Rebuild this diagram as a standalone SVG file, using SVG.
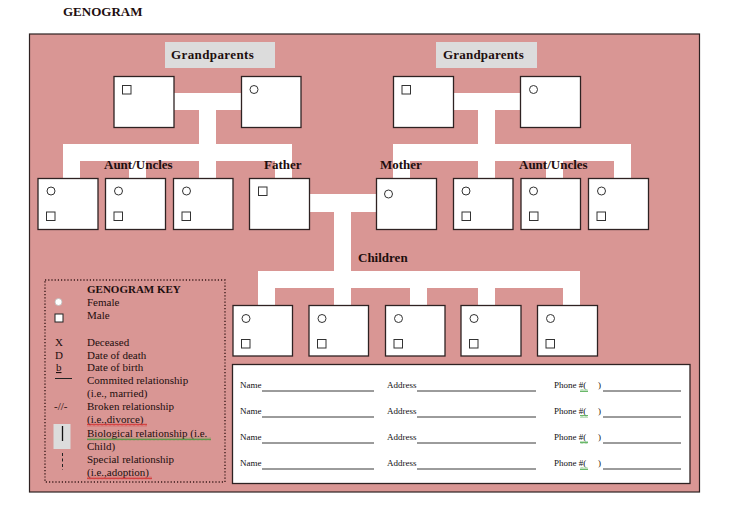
<svg xmlns="http://www.w3.org/2000/svg" width="736" height="508" viewBox="0 0 736 508">
<defs>
<style>
.lbl{font-family:"Liberation Serif","Times New Roman",serif;font-weight:bold;font-size:13px;fill:#1e0e0e}
.key{font-family:"Liberation Serif","Times New Roman",serif;font-size:11px;fill:#1e0e0e}
.frm{font-family:"Liberation Serif","Times New Roman",serif;font-size:9px;fill:#111}
.box{fill:#fff;stroke:#2e2222;stroke-width:1.3}
.ic{fill:#fff;stroke:#333;stroke-width:1}
.bar{fill:#fff}
.ul{stroke:#222;stroke-width:0.9}
</style>
<pattern id="wavR" width="4" height="3" patternUnits="userSpaceOnUse"><path d="M0 2.5 L1 0.5 L2 2.5 L3 0.5 L4 2.5" fill="none" stroke="#d02020" stroke-width="0.7"/></pattern>
<pattern id="wavG" width="4" height="3" patternUnits="userSpaceOnUse"><path d="M0 2.5 L1 0.5 L2 2.5 L3 0.5 L4 2.5" fill="none" stroke="#2a9a2a" stroke-width="0.7"/></pattern>
</defs>
<rect width="736" height="508" fill="#fff"/>
<text class="lbl" x="63" y="16">GENOGRAM</text>
<rect x="29.5" y="34" width="670" height="458" fill="#d99694" stroke="#2e2222" stroke-width="1.2"/>

<g id="connectors">
<rect class="bar" x="173" y="93" width="68" height="17"/>
<rect class="bar" x="199" y="93" width="17" height="68"/>
<rect class="bar" x="63" y="144" width="229" height="17"/>
<rect class="bar" x="63" y="160" width="17" height="18"/>
<rect class="bar" x="129" y="160" width="17" height="18"/>
<rect class="bar" x="199" y="160" width="17" height="18"/>
<rect class="bar" x="275" y="160" width="17" height="18"/>
<rect class="bar" x="453" y="93" width="67" height="17"/>
<rect class="bar" x="478" y="93" width="17" height="68"/>
<rect class="bar" x="393" y="144" width="238" height="17"/>
<rect class="bar" x="393" y="160" width="17" height="18"/>
<rect class="bar" x="478" y="160" width="17" height="18"/>
<rect class="bar" x="546" y="160" width="17" height="18"/>
<rect class="bar" x="614" y="160" width="17" height="18"/>
<rect class="bar" x="309" y="194" width="68" height="18"/>
<rect class="bar" x="334" y="194" width="17" height="94"/>
<rect class="bar" x="258" y="271" width="322" height="17"/>
<rect class="bar" x="258" y="287" width="17" height="19"/>
<rect class="bar" x="334" y="287" width="17" height="19"/>
<rect class="bar" x="410" y="287" width="17" height="19"/>
<rect class="bar" x="478" y="287" width="17" height="19"/>
<rect class="bar" x="563" y="287" width="17" height="19"/>
</g>

<g id="label-grandparents-left"><rect x="165" y="42" width="110" height="26" fill="#dcdcdc"/><text class="lbl" x="171" y="59" letter-spacing="0.4">Grandparents</text></g>
<g id="label-grandparents-right"><rect x="436" y="42" width="101" height="26" fill="#dcdcdc"/><text class="lbl" x="443" y="59" letter-spacing="0.2">Grandparents</text></g>

<g id="gp1"><rect class="box" x="114" y="76.5" width="60" height="51"/><rect class="ic" x="122.5" y="85.5" width="8.5" height="8.5"/></g>
<g id="gp2"><rect class="box" x="241.5" y="76.5" width="59.5" height="51"/><circle class="ic" cx="254" cy="89.5" r="4"/></g>
<g id="gp3"><rect class="box" x="393.5" y="76.5" width="60" height="51"/><rect class="ic" x="402" y="85.5" width="8.5" height="8.5"/></g>
<g id="gp4"><rect class="box" x="520.5" y="76.5" width="60" height="51"/><circle class="ic" cx="533.5" cy="89.5" r="4"/></g>

<g id="aunt1"><rect class="box" x="38" y="178.5" width="60" height="51"/><circle class="ic" cx="51" cy="191" r="4"/><rect class="ic" x="46.5" y="212" width="8.5" height="8.5"/></g>
<g id="aunt2"><rect class="box" x="105.5" y="178.5" width="60" height="51"/><circle class="ic" cx="118.5" cy="191" r="4"/><rect class="ic" x="114" y="212" width="8.5" height="8.5"/></g>
<g id="aunt3"><rect class="box" x="173.5" y="178.5" width="59.5" height="51"/><circle class="ic" cx="186.5" cy="191" r="4"/><rect class="ic" x="182" y="212" width="8.5" height="8.5"/></g>
<g id="father"><rect class="box" x="249.5" y="178.5" width="60" height="51"/><rect class="ic" x="258.5" y="187" width="8.5" height="8.5"/></g>
<g id="mother"><rect class="box" x="376.5" y="178.5" width="60" height="51"/><circle class="ic" cx="388.5" cy="194" r="4"/></g>
<g id="aunt4"><rect class="box" x="453.5" y="178.5" width="59.5" height="51"/><circle class="ic" cx="466" cy="191" r="4"/><rect class="ic" x="462" y="212" width="8.5" height="8.5"/></g>
<g id="aunt5"><rect class="box" x="521" y="178.5" width="59.5" height="51"/><circle class="ic" cx="533.5" cy="191" r="4"/><rect class="ic" x="529.5" y="212" width="8.5" height="8.5"/></g>
<g id="aunt6"><rect class="box" x="588.5" y="178.5" width="60" height="51"/><circle class="ic" cx="601.5" cy="191" r="4"/><rect class="ic" x="597" y="212" width="8.5" height="8.5"/></g>

<g id="labels-gen2">
<text class="lbl" x="104" y="169">Aunt/Uncles</text>
<text class="lbl" x="264" y="169">Father</text>
<text class="lbl" x="380" y="169">Mother</text>
<text class="lbl" x="519" y="169">Aunt/Uncles</text>
<text class="lbl" x="358" y="262">Children</text>
</g>

<g id="child1"><rect class="box" x="233" y="305.5" width="59.5" height="50.5"/><circle class="ic" cx="246" cy="318.5" r="4"/><rect class="ic" x="241.5" y="339.5" width="8.5" height="8.5"/></g>
<g id="child2"><rect class="box" x="309" y="305.5" width="59.5" height="50.5"/><circle class="ic" cx="322" cy="318.5" r="4"/><rect class="ic" x="317.5" y="339.5" width="8.5" height="8.5"/></g>
<g id="child3"><rect class="box" x="385.5" y="305.5" width="59.5" height="50.5"/><circle class="ic" cx="398.5" cy="318.5" r="4"/><rect class="ic" x="394" y="339.5" width="8.5" height="8.5"/></g>
<g id="child4"><rect class="box" x="461" y="305.5" width="60" height="50.5"/><circle class="ic" cx="474" cy="318.5" r="4"/><rect class="ic" x="469.5" y="339.5" width="8.5" height="8.5"/></g>
<g id="child5"><rect class="box" x="537.5" y="305.5" width="60" height="50.5"/><circle class="ic" cx="550.5" cy="318.5" r="4"/><rect class="ic" x="546" y="339.5" width="8.5" height="8.5"/></g>

<g id="key">
<rect x="45" y="280" width="180" height="202" fill="none" stroke="#3a1a1a" stroke-width="1.4" stroke-dasharray="1.2 2"/>
<text class="key" x="87" y="293" font-weight="bold">GENOGRAM KEY</text>
<circle cx="58.5" cy="302" r="3.5" fill="#fff" stroke="#bbb" stroke-width="0.8"/>
<text class="key" x="87" y="306">Female</text>
<rect x="55" y="314" width="8" height="8" fill="#fff" stroke="#222" stroke-width="1"/>
<text class="key" x="87" y="319">Male</text>
<text class="key" x="55" y="345.5">X</text>
<text class="key" x="87" y="345.5">Deceased</text>
<text class="key" x="55" y="358.5">D</text>
<text class="key" x="87" y="358.5">Date of death</text>
<text class="key" x="56" y="371" text-decoration="underline">b</text>
<text class="key" x="87" y="371">Date of birth</text>
<line x1="55" y1="378.5" x2="72" y2="378.5" stroke="#222" stroke-width="1"/>
<text class="key" x="87" y="383.5">Commited relationship</text>
<text class="key" x="87" y="396.5">(i.e., married)</text>
<text class="key" x="54" y="409.5" font-size="9.5">-//-</text>
<text class="key" x="87" y="409.5">Broken relationship</text>
<text class="key" x="87" y="422.5">(i.e.,divorce)</text>
<rect x="87" y="423.5" width="60" height="3" fill="url(#wavR)"/>
<rect x="53.5" y="424" width="17" height="25" fill="#dcdcdc"/>
<line x1="62.5" y1="426" x2="62.5" y2="441" stroke="#111" stroke-width="1.3"/>
<text class="key" x="87" y="436.5">Biological relationship (i.e.</text>
<rect x="87" y="437.5" width="124" height="3" fill="url(#wavG)"/>
<text class="key" x="87" y="449.5">Child)</text>
<line x1="62.5" y1="453" x2="62.5" y2="470" stroke="#222" stroke-width="1" stroke-dasharray="3 2.5"/>
<text class="key" x="87" y="463">Special relationship</text>
<text class="key" x="87" y="475.5">(i.e.,adoption)</text>
<rect x="87" y="476.5" width="65" height="3" fill="url(#wavR)"/>
</g>

<g id="contact-form">
<rect x="232.5" y="364.5" width="457.5" height="119" fill="#fff" stroke="#2e2222" stroke-width="1.3"/>
<g id="row1">
<text class="frm" x="240" y="388">Name</text><line class="ul" x1="262" y1="391" x2="374" y2="391"/>
<text class="frm" x="387" y="388">Address</text><line class="ul" x1="417" y1="391" x2="536" y2="391"/>
<text class="frm" x="554" y="388">Phone #(</text><text class="frm" x="598" y="388">)</text><line class="ul" x1="603" y1="391" x2="681" y2="391"/>
<rect x="580" y="389" width="8" height="3" fill="url(#wavG)"/>
</g>
<g id="row2">
<text class="frm" x="240" y="414">Name</text><line class="ul" x1="262" y1="417" x2="374" y2="417"/>
<text class="frm" x="387" y="414">Address</text><line class="ul" x1="417" y1="417" x2="536" y2="417"/>
<text class="frm" x="554" y="414">Phone #(</text><text class="frm" x="598" y="414">)</text><line class="ul" x1="603" y1="417" x2="681" y2="417"/>
<rect x="580" y="415" width="8" height="3" fill="url(#wavG)"/>
</g>
<g id="row3">
<text class="frm" x="240" y="440">Name</text><line class="ul" x1="262" y1="443" x2="374" y2="443"/>
<text class="frm" x="387" y="440">Address</text><line class="ul" x1="417" y1="443" x2="536" y2="443"/>
<text class="frm" x="554" y="440">Phone #(</text><text class="frm" x="598" y="440">)</text><line class="ul" x1="603" y1="443" x2="681" y2="443"/>
<rect x="580" y="441" width="8" height="3" fill="url(#wavG)"/>
</g>
<g id="row4">
<text class="frm" x="240" y="466">Name</text><line class="ul" x1="262" y1="469" x2="374" y2="469"/>
<text class="frm" x="387" y="466">Address</text><line class="ul" x1="417" y1="469" x2="536" y2="469"/>
<text class="frm" x="554" y="466">Phone #(</text><text class="frm" x="598" y="466">)</text><line class="ul" x1="603" y1="469" x2="681" y2="469"/>
<rect x="580" y="467" width="8" height="3" fill="url(#wavG)"/>
</g>
</g>
</svg>
